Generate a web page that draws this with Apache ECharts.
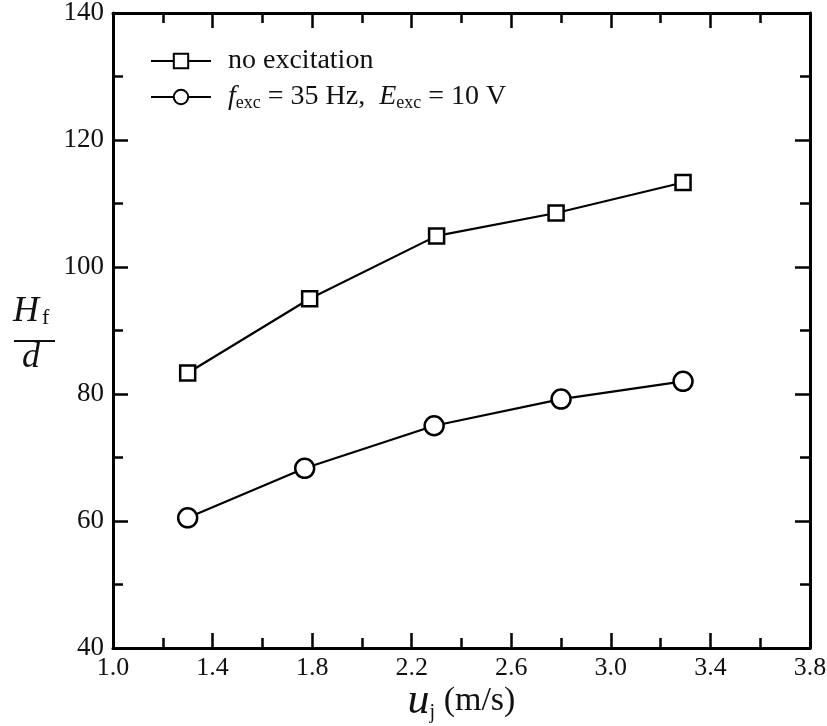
<!DOCTYPE html>
<html>
<head>
<meta charset="utf-8">
<script src="https://cdn.jsdelivr.net/npm/echarts@6/dist/echarts.min.js"></script>
<style>
  html, body { margin: 0; padding: 0; background: #fff; }
  #chart { width: 827px; height: 726px; }
</style>
</head>
<body>
<div id="chart"></div>
<script>
var uNoExc = [1.3, 1.79, 2.3, 2.78, 3.29];
var hNoExc = [83.3, 95.0, 104.9, 108.5, 113.3];
var uExc = [1.3, 1.77, 2.29, 2.8, 3.29];
var hExc = [60.5, 68.3, 75.0, 79.2, 82.0];
var seriesNames = ['no excitation', 'exc35'];

var FONT = 'Liberation Serif';

function pairs(xs, ys) {
    return xs.map(function (x, i) { return [x, ys[i]]; });
}

var chart = echarts.init(document.getElementById('chart'));

// shared frame style
var frameLine = { lineStyle: { color: '#000', width: 3 } };
var tickMajor = { show: true, inside: true, length: 15, lineStyle: { color: '#000', width: 2.5 } };
var tickMinor = { show: true, splitNumber: 2, length: 10, lineStyle: { color: '#000', width: 2.5 } };

var option = {
    backgroundColor: '#fff',
    animation: false,

    // Setup grid
    grid: { left: 113, right: 17, top: 13, bottom: 78, containLabel: false, outerBoundsMode: 'none' },

    // Add legend
    legend: {
        orient: 'vertical',
        left: 145,
        top: 42,
        itemWidth: 60,
        itemHeight: 18,
        itemGap: 8,
        data: seriesNames,
        formatter: function (name) {
            if (name === 'exc35') {
                return '{i|f}{s|exc}{n| = 35 Hz,  }{i|E}{s|exc}{n| = 10 V}';
            }
            return '{n|' + name + '}';
        },
        textStyle: {
            fontFamily: FONT,
            fontSize: 28,
            color: '#111',
            padding: [0, 0, 0, 12],
            rich: {
                n: { fontFamily: FONT, fontSize: 28, color: '#111', lineHeight: 30 },
                i: { fontFamily: FONT, fontSize: 28, fontStyle: 'italic', color: '#111', lineHeight: 30 },
                s: { fontFamily: FONT, fontSize: 18, color: '#111', verticalAlign: 'bottom', lineHeight: 30 }
            }
        }
    },

    // Horizontal axis
    xAxis: [{
        type: 'value',
        min: 1.0,
        max: 3.8,
        interval: 0.4,
        name: '{u|u}{j|j}{p| (m/s)}',
        nameLocation: 'middle',
        nameGap: 31,
        nameMoveOverlap: false,
        nameTextStyle: {
            rich: {
                u: { fontFamily: FONT, fontSize: 44, fontStyle: 'italic', color: '#111', lineHeight: 44 },
                j: { fontFamily: FONT, fontSize: 20, color: '#111', verticalAlign: 'bottom', lineHeight: 44 },
                p: { fontFamily: FONT, fontSize: 34, color: '#111', lineHeight: 44 }
            }
        },
        axisLine: frameLine,
        axisTick: tickMajor,
        minorTick: tickMinor,
        splitLine: { show: false },
        axisLabel: {
            fontFamily: FONT, fontSize: 26, color: '#111', margin: 7,
            formatter: function (v) { return v.toFixed(1); }
        }
    }, {
        type: 'value',
        position: 'top',
        min: 1.0,
        max: 3.8,
        interval: 0.4,
        axisLine: frameLine,
        axisTick: tickMajor,
        minorTick: tickMinor,
        splitLine: { show: false },
        axisLabel: { show: false }
    }],

    // Vertical axis
    yAxis: [{
        type: 'value',
        min: 40,
        max: 140,
        interval: 20,
        axisLine: frameLine,
        axisTick: tickMajor,
        minorTick: tickMinor,
        splitLine: { show: false },
        axisLabel: { fontFamily: FONT, fontSize: 27, color: '#111', margin: 9 }
    }, {
        type: 'value',
        position: 'right',
        min: 40,
        max: 140,
        interval: 20,
        axisLine: frameLine,
        axisTick: tickMajor,
        minorTick: tickMinor,
        splitLine: { show: false },
        axisLabel: { show: false }
    }],

    // y axis title as a fraction H_f / d
    graphic: [
        { type: 'text', left: 13, top: 294, style: { text: 'H', fontFamily: FONT, fontSize: 36, fontStyle: 'italic', fill: '#111' } },
        { type: 'text', left: 42, top: 307, style: { text: 'f', fontFamily: FONT, fontSize: 22, fill: '#111' } },
        { type: 'line', shape: { x1: 14, y1: 341, x2: 55, y2: 341 }, style: { stroke: '#111', lineWidth: 2 } },
        { type: 'text', left: 22, top: 340, style: { text: 'd', fontFamily: FONT, fontSize: 36, fontStyle: 'italic', fill: '#111' } }
    ],

    // Add series
    series: [
        {
            name: seriesNames[0],
            type: 'line',
            xAxisIndex: 0,
            yAxisIndex: 0,
            data: pairs(uNoExc, hNoExc),
            symbol: 'rect',
            symbolSize: 15,
            lineStyle: { color: '#000', width: 2.2 },
            itemStyle: { color: '#fff', borderColor: '#000', borderWidth: 2.5 }
        },
        {
            name: seriesNames[1],
            type: 'line',
            xAxisIndex: 0,
            yAxisIndex: 0,
            data: pairs(uExc, hExc),
            symbol: 'circle',
            symbolSize: 19,
            lineStyle: { color: '#000', width: 2.2 },
            itemStyle: { color: '#fff', borderColor: '#000', borderWidth: 2.5 }
        }
    ]
};

chart.setOption(option);
</script>
</body>
</html>
